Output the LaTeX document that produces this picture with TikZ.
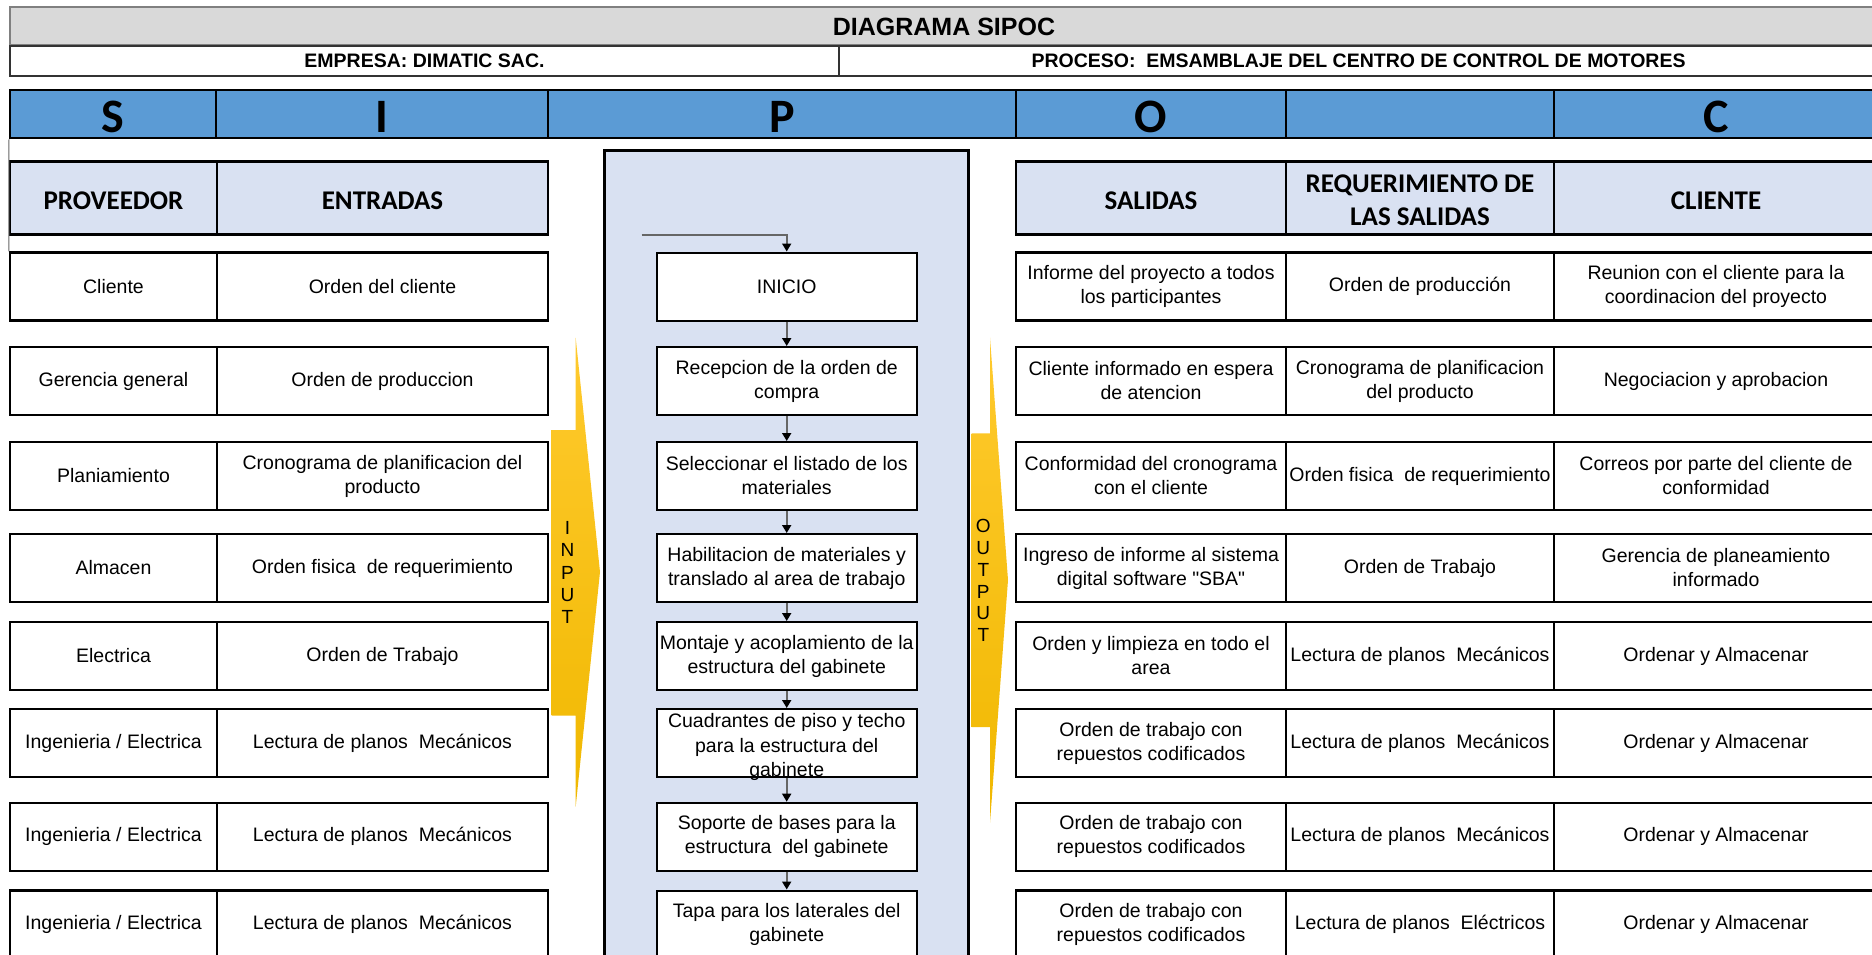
\documentclass[tikz,border=0pt]{standalone}
\usepackage{fontspec}
\setmainfont{Liberation Sans}[Ligatures=TeXOff]
\newfontfamily\calibri{Carlito}
\usepackage{tikz}
\usetikzlibrary{arrows.meta}
\definecolor{hdrblue}{HTML}{D9E1F2}
\definecolor{bandblue}{HTML}{5B9BD5}
\definecolor{titlegray}{HTML}{D9D9D9}
\definecolor{goldtop}{HTML}{FFCA2E}
\definecolor{goldbot}{HTML}{F0B800}
\newcommand{\cellfont}{\fontsize{19.5}{24}\selectfont}

\begin{document}
\begin{tikzpicture}[x=1pt,y=-1pt]
        %
        % `cell' is used for the table boxes, `stepbox' for the process steps.
        % `flow' is used for the arrows between the steps.
        \tikzstyle{cell} = [draw,fill=white,line width=2.2pt,minimum height=68pt,inner sep=0pt,align=center,font=\cellfont]
        \tikzstyle{headcell} = [draw,fill=hdrblue,line width=2.2pt,minimum height=73pt,inner sep=0pt,align=center,text height=22.4pt,font=\calibri\bfseries\fontsize{27}{33}\selectfont]
        \tikzstyle{bandcell} = [draw,fill=bandblue,line width=2pt,minimum height=48pt,inner sep=0pt,text height=36pt,text depth=0pt,font=\calibri\bfseries\fontsize{48}{48}\selectfont]
        \tikzstyle{inforow} = [draw=black!80,fill=white,line width=2pt,minimum height=30pt,inner sep=0pt,font=\bfseries\fontsize{19.5}{24}\selectfont]
        \tikzstyle{stepbox} = [draw,fill=white,line width=2pt,minimum width=260pt,minimum height=68pt,inner sep=0pt,align=center,font=\cellfont]
        \tikzstyle{flow} = [draw=black!60,line width=1.8pt,-{Triangle[width=9pt,length=8pt,color=black]}]
        \tikzstyle{arrowtext} = [inner sep=0pt,align=center]
        \tikzstyle{provcol} = [minimum width=207pt]
        \tikzstyle{entcol} = [minimum width=331pt]
        \tikzstyle{salcol} = [minimum width=270pt]
        \tikzstyle{reqcol} = [minimum width=268pt]
        \tikzstyle{clicol} = [minimum width=324pt]
        %
        \useasboundingbox (0,0) rectangle (1872,955);
        \clip (0,0) rectangle (1872,955);
        %
        % Title
        \node[draw=black!50,fill=titlegray,line width=2pt,minimum width=1868pt,minimum height=38pt,inner sep=0pt,
              font=\bfseries\fontsize{25}{30}\selectfont] (title) at (944,26.5) {DIAGRAMA SIPOC};
        \node[inforow,minimum width=829pt] (empresa) at (424.5,61) {EMPRESA: DIMATIC SAC.};
        \node[inforow,minimum width=1039pt] (proceso) at (1358.5,61) {PROCESO:\ \ EMSAMBLAJE DEL CENTRO DE CONTROL DE MOTORES};
        %
        % S I P O C band
        \node[bandcell,minimum width=206pt] (bandS) at (113,114.5) {S};
        \node[bandcell,minimum width=332pt] (bandI) at (382,114.5) {I};
        \node[bandcell,minimum width=468pt] (bandP) at (782,114.5) {P};
        \node[bandcell,minimum width=270pt] (bandO) at (1151,114.5) {O};
        \node[bandcell,minimum width=268pt] (bandR) at (1420,114.5) {};
        \node[bandcell,minimum width=324pt] (bandC) at (1716,114.5) {C};
        %
        % Process frame
        \node[draw,fill=hdrblue,line width=3pt,minimum width=364pt,minimum height=830pt] (procbox) at (786,565.5) {};
        %
        % Input and output arrows
        \shade[top color=goldtop,bottom color=goldbot] (575.7,337.7) -- (600,572) -- (575.7,806.7) -- (575.7,715.7)
              -- (551.7,715.7) -- (551.7,430) -- (575.7,430) -- cycle;
        \shade[top color=goldtop,bottom color=goldbot] (990,337.7) -- (1008,580) -- (990,822.7) -- (990,727)
              -- (971.7,727) -- (971.7,433.3) -- (990,433.3) -- cycle;
        \node[arrowtext,font=\fontsize{19}{22.3}\selectfont] (inlbl) at (567.5,572.5) {I\\N\\P\\U\\T};
        \node[arrowtext,font=\fontsize{19}{21.8}\selectfont] (outlbl) at (983.3,580.5) {O\\U\\T\\P\\U\\T};
        %
        % Headers
        \node[headcell,provcol] (hprov) at (113.5,198) {PROVEEDOR};
        \node[headcell,entcol] (hent) at (382.5,198) {ENTRADAS};
        \node[headcell,salcol] (hsal) at (1151,198) {SALIDAS};
        \node[headcell,reqcol,text height=55.4pt] (hreq) at (1420,198) {REQUERIMIENTO DE\\LAS SALIDAS};
        \node[headcell,clicol] (hcli) at (1716,198) {CLIENTE};
        %
        % Row 1
        \node[cell,provcol] (prov1) at (113.5,286.5) {Cliente};
        \node[cell,entcol] (ent1) at (382.5,286.5) {Orden del cliente};
        \node[stepbox] (step1) at (786.7,286.5) {INICIO};
        \node[cell,salcol] (sal1) at (1151,286.5) {Informe del proyecto a todos\\los participantes};
        \node[cell,reqcol] (req1) at (1420,286.5) {Orden de producción};
        \node[cell,clicol] (cli1) at (1716,286.5) {Reunion con el cliente para la\\coordinacion del proyecto};
        %
        % Row 2
        \node[cell,provcol] (prov2) at (113.5,381) {Gerencia general};
        \node[cell,entcol] (ent2) at (382.5,381) {Orden de produccion};
        \node[stepbox] (step2) at (786.7,381) {Recepcion de la orden de\\compra};
        \node[cell,salcol] (sal2) at (1151,381) {Cliente informado en espera\\de atencion};
        \node[cell,reqcol] (req2) at (1420,381) {Cronograma de planificacion\\del producto};
        \node[cell,clicol] (cli2) at (1716,381) {Negociacion y aprobacion};
        %
        % Row 3
        \node[cell,provcol] (prov3) at (113.5,476) {Planiamiento};
        \node[cell,entcol] (ent3) at (382.5,476) {Cronograma de planificacion del\\producto};
        \node[stepbox] (step3) at (786.7,476) {Seleccionar el listado de los\\materiales};
        \node[cell,salcol] (sal3) at (1151,476) {Conformidad del cronograma\\con el cliente};
        \node[cell,reqcol] (req3) at (1420,476) {Orden fisica\ \ de requerimiento};
        \node[cell,clicol] (cli3) at (1716,476) {Correos por parte del cliente de\\conformidad};
        %
        % Row 4
        \node[cell,provcol] (prov4) at (113.5,568) {Almacen};
        \node[cell,entcol] (ent4) at (382.5,568) {Orden fisica\ \ de requerimiento};
        \node[stepbox] (step4) at (786.7,568) {Habilitacion de materiales y\\translado al area de trabajo};
        \node[cell,salcol] (sal4) at (1151,568) {Ingreso de informe al sistema\\digital software "SBA"};
        \node[cell,reqcol] (req4) at (1420,568) {Orden de Trabajo};
        \node[cell,clicol] (cli4) at (1716,568) {Gerencia de planeamiento\\informado};
        %
        % Row 5
        \node[cell,provcol] (prov5) at (113.5,656) {Electrica};
        \node[cell,entcol] (ent5) at (382.5,656) {Orden de Trabajo};
        \node[stepbox] (step5) at (786.7,656) {Montaje y acoplamiento de la\\estructura del gabinete};
        \node[cell,salcol] (sal5) at (1151,656) {Orden y limpieza en todo el\\area};
        \node[cell,reqcol] (req5) at (1420,656) {Lectura de planos\ \ Mecánicos};
        \node[cell,clicol] (cli5) at (1716,656) {Ordenar y Almacenar};
        %
        % Row 6
        \node[cell,provcol] (prov6) at (113.5,743) {Ingenieria / Electrica};
        \node[cell,entcol] (ent6) at (382.5,743) {Lectura de planos\ \ Mecánicos};
        \node[stepbox,font=\fontsize{19.5}{24.5}\selectfont,text height=67.2pt,text depth=0pt] (step6) at (786.7,743) {Cuadrantes de piso y techo\\para la estructura del\\gabinete};
        \node[cell,salcol] (sal6) at (1151,743) {Orden de trabajo con\\repuestos codificados};
        \node[cell,reqcol] (req6) at (1420,743) {Lectura de planos\ \ Mecánicos};
        \node[cell,clicol] (cli6) at (1716,743) {Ordenar y Almacenar};
        %
        % Row 7
        \node[cell,provcol] (prov7) at (113.5,836.7) {Ingenieria / Electrica};
        \node[cell,entcol] (ent7) at (382.5,836.7) {Lectura de planos\ \ Mecánicos};
        \node[stepbox] (step7) at (786.7,836.7) {Soporte de bases para la\\estructura\ \ del gabinete};
        \node[cell,salcol] (sal7) at (1151,836.7) {Orden de trabajo con\\repuestos codificados};
        \node[cell,reqcol] (req7) at (1420,836.7) {Lectura de planos\ \ Mecánicos};
        \node[cell,clicol] (cli7) at (1716,836.7) {Ordenar y Almacenar};
        %
        % Row 8
        \node[cell,provcol] (prov8) at (113.5,924.5) {Ingenieria / Electrica};
        \node[cell,entcol] (ent8) at (382.5,924.5) {Lectura de planos\ \ Mecánicos};
        \node[stepbox] (step8) at (786.7,924.5) {Tapa para los laterales del\\gabinete};
        \node[cell,salcol] (sal8) at (1151,924.5) {Orden de trabajo con\\repuestos codificados};
        \node[cell,reqcol] (req8) at (1420,924.5) {Lectura de planos\ \ Eléctricos};
        \node[cell,clicol] (cli8) at (1716,924.5) {Ordenar y Almacenar};
        %
        % Left border line
        \draw[black!60,line width=1pt] (bandS.south west) -- (prov1.north west);
        %
        % Flow arrows
        \coordinate (start) at (641.7,235);
        \draw[flow] (start) -| (step1.north);
        \draw[flow] (step1) -- (step2);
        \draw[flow] (step2) -- (step3);
        \draw[flow] (step3) -- (step4);
        \draw[flow] (step4) -- (step5);
        \draw[flow] (step5) -- (step6);
        \draw[flow] (step6) -- (step7);
        \draw[flow] (step7) -- (step8);
        %
\end{tikzpicture}
\end{document}
